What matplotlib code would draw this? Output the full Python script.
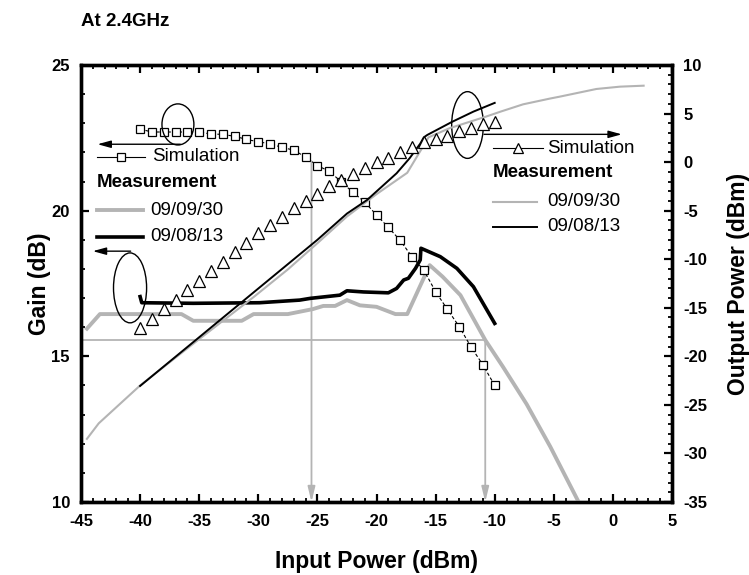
import matplotlib
matplotlib.use("Agg")
import matplotlib.pyplot as plt
from matplotlib.patches import Ellipse
from matplotlib.ticker import MultipleLocator

plt.rcParams['font.family'] = ['Liberation Sans', 'DejaVu Sans']
plt.rcParams['axes.unicode_minus'] = False

# simulated gain (squares) and output power (triangles), 1 dB input steps
sim_pin = [-40, -39, -38, -37, -36, -35, -34, -33, -32, -31, -30, -29, -28, -27, -26, -25,
           -24, -23, -22, -21, -20, -19, -18, -17, -16, -15, -14, -13, -12, -11, -10]
sim_gain = [22.80, 22.70, 22.70, 22.70, 22.70, 22.70, 22.63, 22.62, 22.55, 22.45, 22.36,
            22.30, 22.17, 22.08, 21.84, 21.55, 21.35, 21.00, 20.63, 20.30, 19.85, 19.43,
            18.98, 18.42, 17.96, 17.22, 16.61, 16.02, 15.32, 14.71, 14.00]
sim_pout = [-17.05, -16.19, -15.16, -14.20, -13.17, -12.21, -11.20, -10.30, -9.23, -8.36,
            -7.33, -6.48, -5.62, -4.76, -4.00, -3.32, -2.50, -1.84, -1.26, -0.64, -0.02,
            0.45, 1.01, 1.52, 2.04, 2.38, 2.72, 3.20, 3.54, 3.89, 4.16]

# measurement 09/09/30
m930_gain_pin = [-44.5, -43.4, -36.5, -35.5, -31.4, -30.4, -27.5, -25.4, -24.5, -23.5, -22.5,
                 -21.4, -20.0, -18.4, -17.4, -15.5, -14.4, -12.9, -10.8, -9.3, -7.3, -5.3, -2.9]
m930_gain = [15.95, 16.45, 16.45, 16.22, 16.22, 16.45, 16.45, 16.62, 16.73, 16.73, 16.93,
             16.75, 16.70, 16.45, 16.45, 18.13, 17.73, 17.10, 15.56, 14.64, 13.36, 11.90, 10.00]
m930_pout_pin = [-44.5, -43.5, -40.0, -35.5, -30.4, -27.5, -25.0, -22.5, -20.0, -17.4, -15.6,
                 -13.8, -10.7, -9.5, -7.6, -5.3, -4.5, -1.4, 0.6, 2.6]
m930_pout = [-28.5, -26.9, -23.0, -18.7, -13.9, -11.05, -8.35, -5.6, -3.3, -1.1, 2.55,
             3.5, 4.7, 5.2, 5.95, 6.55, 6.74, 7.53, 7.77, 7.87]

# measurement 09/08/13
m813_gain_pin = [-40.0, -39.86, -35.5, -29.9, -26.5, -25.6, -23.1, -22.5, -21.1, -19.0, -18.3,
                 -17.7, -17.3, -16.7, -16.3, -16.24, -15.9, -14.6, -13.2, -11.8, -10.0]
m813_gain = [17.05, 16.84, 16.82, 16.84, 16.93, 16.99, 17.10, 17.25, 17.21, 17.18, 17.33,
             17.62, 17.68, 18.02, 18.31, 18.71, 18.65, 18.42, 18.02, 17.39, 16.13]
m813_pout_pin = [-40.0, -25.0, -22.5, -20.8, -18.3, -17.2, -16.3, -16.0, -15.7, -13.6, -11.8, -10.0]
m813_pout = [-23.05, -8.0, -5.3, -3.9, -1.15, 0.4, 1.9, 2.55, 2.8, 4.15, 5.2, 6.1]

# guide lines: gain level and the two input powers marked on the x axis
guide_gain = 15.55
guide_pin_a = -25.5
guide_pin_a_top = 21.7
guide_pin_b = -10.8

GRAY = '#b4b4b4'
LBL = dict(fontsize=16.5, fontweight='bold')

fig = plt.figure(figsize=(7.49, 5.75), dpi=100)
ax = fig.add_axes([81 / 749, 73 / 575, 591 / 749, 437 / 575])
ax2 = ax.twinx()

ax.set_xlim(-45, 5)
ax.set_ylim(10, 25)
ax2.set_ylim(-35, 10)

# guide lines with arrows down to the x axis
ax.plot([-45, guide_pin_b], [guide_gain, guide_gain], color=GRAY, lw=1.3, zorder=1)
for xp, ytop in [(guide_pin_a, guide_pin_a_top), (guide_pin_b, guide_gain)]:
    ax.annotate('', xy=(xp, 10), xytext=(xp, ytop),
                arrowprops=dict(arrowstyle='-|>,head_length=0.9,head_width=0.22',
                                color=GRAY, lw=1.3, shrinkA=0, shrinkB=0), zorder=1)

# gain curves
ax.plot(m930_gain_pin, m930_gain, color=GRAY, lw=2.8, zorder=3)
ax.plot(m813_gain_pin, m813_gain, color='black', lw=2.6, zorder=3)
ax.plot(sim_pin, sim_gain, color='black', lw=0.8, ls=(0, (3, 2)), marker='s', ms=6,
        mfc='white', mec='black', mew=0.9, zorder=4)

# output power curves
ax2.plot(m930_pout_pin, m930_pout, color=GRAY, lw=1.5, zorder=3)
ax2.plot(m813_pout_pin, m813_pout, color='black', lw=1.4, zorder=3)
ax2.plot(sim_pin, sim_pout, ls='none', marker='^', ms=9,
         mfc='white', mec='black', mew=0.9, zorder=4)

# ellipses with arrows pointing to the matching axis
arr = dict(arrowstyle='-|>,head_length=0.8,head_width=0.22', color='black', lw=1.0,
           shrinkA=0, shrinkB=0)
ax.add_patch(Ellipse((-36.8, 22.96), 2.7, 1.41, fill=False, ec='black', lw=1.0, zorder=5))
ax.annotate('', xy=(-43.6, 22.28), xytext=(-36.6, 22.28), arrowprops=arr, zorder=5)
ax.add_patch(Ellipse((-40.85, 17.35), 2.8, 2.4, fill=False, ec='black', lw=1.0, zorder=5))
ax.annotate('', xy=(-44.0, 18.61), xytext=(-40.8, 18.61), arrowprops=arr, zorder=5)
ax.add_patch(Ellipse((-12.3, 22.94), 2.68, 2.29, fill=False, ec='black', lw=1.0, zorder=5))
ax.annotate('', xy=(0.75, 22.62), xytext=(-10.9, 22.62), arrowprops=arr, zorder=5)

# legends, drawn by hand in axes fraction
T = ax.transAxes
leg_fs = 13.5
ax.plot([0.027, 0.108], [0.790, 0.790], transform=T, color='black', lw=0.8, zorder=6)
ax.plot([0.0675], [0.790], transform=T, marker='s', ms=6, mfc='white', mec='black',
        mew=0.9, ls='none', zorder=6)
ax.text(0.120, 0.790, 'Simulation', transform=T, fontsize=leg_fs, va='center')
ax.text(0.027, 0.730, 'Measurement', transform=T, fontsize=leg_fs, fontweight='bold', va='center')
ax.plot([0.027, 0.105], [0.668, 0.668], transform=T, color=GRAY, lw=2.8)
ax.text(0.117, 0.668, '09/09/30', transform=T, fontsize=leg_fs, va='center')
ax.plot([0.027, 0.105], [0.607, 0.607], transform=T, color='black', lw=2.6)
ax.text(0.117, 0.607, '09/08/13', transform=T, fontsize=leg_fs, va='center')

ax.plot([0.697, 0.782], [0.810, 0.810], transform=T, color='black', lw=0.8, zorder=6)
ax.plot([0.7395], [0.810], transform=T, marker='^', ms=7.5, mfc='white', mec='black',
        mew=0.9, ls='none', zorder=6)
ax.text(0.789, 0.810, 'Simulation', transform=T, fontsize=leg_fs, va='center')
ax.text(0.697, 0.753, 'Measurement', transform=T, fontsize=leg_fs, fontweight='bold', va='center')
ax.plot([0.697, 0.772], [0.687, 0.687], transform=T, color=GRAY, lw=1.5)
ax.text(0.789, 0.687, '09/09/30', transform=T, fontsize=leg_fs, va='center')
ax.plot([0.697, 0.772], [0.630, 0.630], transform=T, color='black', lw=1.4)
ax.text(0.789, 0.630, '09/08/13', transform=T, fontsize=leg_fs, va='center')

# axes and tick locations
ax.xaxis.set_major_locator(MultipleLocator(5))
ax.xaxis.set_minor_locator(MultipleLocator(1))
ax.yaxis.set_major_locator(MultipleLocator(5))
ax.yaxis.set_minor_locator(MultipleLocator(1))
ax2.yaxis.set_major_locator(MultipleLocator(5))
ax2.yaxis.set_minor_locator(MultipleLocator(1))

ax.tick_params(which='both', direction='in', length=0)
ax2.tick_params(which='both', direction='in', length=0)
ax.tick_params(axis='x', which='major', pad=9)
ax.tick_params(axis='y', which='major', pad=8)
ax2.tick_params(axis='y', which='major', pad=8)
for a in (ax, ax2):
    for s in a.spines.values():
        s.set_linewidth(2.4)

# inward tick marks on all four sides, placed at the locator positions
xt = ax.get_xaxis_transform()
for locs, ln, lw in [(ax.xaxis.get_majorticklocs(), 0.019, 1.6),
                     (ax.xaxis.get_minorticklocs(), 0.010, 1.3)]:
    ax.vlines(locs, 0, ln, transform=xt, colors='black', lw=lw, capstyle='butt', zorder=2.6)
    ax.vlines(locs, 1 - ln, 1, transform=xt, colors='black', lw=lw, capstyle='butt', zorder=2.6)
for a, side in [(ax, 0), (ax2, 1)]:
    yt = a.get_yaxis_transform()
    for locs, ln, lw in [(a.yaxis.get_majorticklocs(), 0.014, 1.6),
                         (a.yaxis.get_minorticklocs(), 0.0075, 1.3)]:
        if side == 0:
            a.hlines(locs, 0, ln, transform=yt, colors='black', lw=lw, capstyle='butt', zorder=2.6)
        else:
            a.hlines(locs, 1 - ln, 1, transform=yt, colors='black', lw=lw, capstyle='butt', zorder=2.6)
ax.set_xlim(-45, 5)
ax.set_ylim(10, 25)
ax2.set_ylim(-35, 10)

ax.set_xlabel('Input Power (dBm)', labelpad=15, **LBL)
ax.set_ylabel('Gain (dB)', labelpad=0, **LBL)
ax2.set_ylabel('Output Power (dBm)', labelpad=14, **LBL)

fig.text(81 / 749, 1 - 22 / 575, 'At 2.4GHz', fontsize=13.5, fontweight='bold', va='center')

# bold tick numbers, applied once the tick sets are final
fig.canvas.draw()
for a in (ax, ax2):
    for lab in a.get_xticklabels() + a.get_yticklabels():
        lab.set_fontweight('bold')
        lab.set_fontsize(12)

fig.savefig('out.png', dpi=100)
